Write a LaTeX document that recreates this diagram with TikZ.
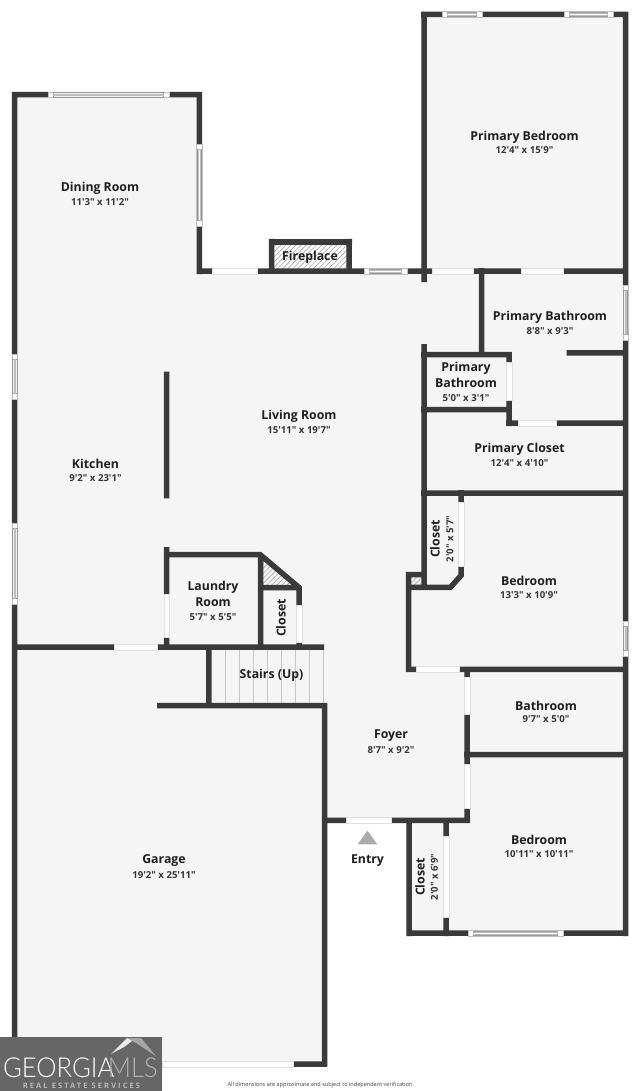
\documentclass[tikz,border=0pt]{standalone}
\usepackage{fontspec}
\usetikzlibrary{patterns.meta}
\newfontfamily\lab{Open Sans}
\newfontfamily\logofont{Lato Light}
\definecolor{wallc}{HTML}{3A3A3A}
\definecolor{floorc}{HTML}{F5F5F5}
\definecolor{txtc}{HTML}{1E1E1E}
\tikzset{
  wall/.style={draw=wallc,line width=5.5pt,line cap=butt,line join=miter},
  doorst/.style={fill=white,draw=black!12,line width=.5pt},
  winst/.style={fill=white,draw=black!25,line width=.5pt},
  winin/.style={fill=black!6,draw=black!40,line width=.5pt},
  hatchst/.style={pattern={Lines[angle=45,distance=3.6pt,line width=.6pt]},pattern color=black!35},
  rnamev/.style={font=\lab\bfseries\fontsize{12.3}{14}\selectfont,text=txtc,inner sep=0pt,align=center},
  rdimv/.style={font=\lab\bfseries\fontsize{9.6}{11}\selectfont,text=txtc!90,inner sep=0pt},
  rname/.style={rnamev,yshift=-1pt},
  rdim/.style={rdimv,yshift=-.8pt},
}
\newcommand\doorh[3]{\draw[doorst] ({#1},{#3-2.75}) rectangle ({#2},{#3+2.75});}
\newcommand\doorv[3]{\draw[doorst] ({#3-2.75},{#1}) rectangle ({#3+2.75},{#2});}
\newcommand\winh[3]{\draw[winst] ({#1},{#3-2.75}) rectangle ({#2},{#3+2.75});
  \draw[winin] ({#1+5.5},{#3-2.2}) rectangle ({#2-5.5},{#3+2.2});
  \draw[draw=black!25,line width=.4pt,fill=white] ({#1+5.5},{#3-.8}) rectangle ({#2-5.5},{#3+.8});}
\newcommand\winv[3]{\draw[winst] ({#3-2.75},{#1}) rectangle ({#3+2.75},{#2});
  \draw[winin] ({#3-2.2},{#1+5.5}) rectangle ({#3+2.2},{#2-5.5});
  \draw[draw=black!25,line width=.4pt,fill=white] ({#3-.8},{#1+5.5}) rectangle ({#3+.8},{#2-5.5});}
\begin{document}
\begin{tikzpicture}[x=1pt,y=-1pt]
\useasboundingbox (0,0) rectangle (640,1091);
\fill[white] (0,0) rectangle (640,1091);
% floor
\fill[floorc] (12,92)--(202,92)--(202,274)--(421,274)--(421,12)--(628,12)--(628,936)--(407,936)--(407,823)--(327,823)--(327,1066)--(12,1066)--cycle;
% fireplace
\fill[white] (269,239)rectangle(352,268);
\path[hatchst] (274,245) rectangle (347,268);
\path[hatchst] (263,558)--(263,585)--(292,585)--cycle;
\path[hatchst] (411.5,577) rectangle (421,585);
% stairs
\foreach \sx in {225.7,239.3,253.3,267.3,281.3,295.3,309.3,323}
  \draw[black!22,line width=.6pt] (\sx,650)--(\sx,703);
% walls
\path[wall]
 (14.7,92)--(14.7,354) (14.7,399)--(14.7,523) (14.7,604)--(14.7,1066)
 (12,94.7)--(48,94.7) (169,94.7)--(202,94.7)
 (199.3,92)--(199.3,144) (199.3,226)--(199.3,274)
 (197,271)--(212,271) (257,271)--(364,271) (407,271)--(432,271) (473,271)--(521,271) (563,271)--(628,271)
 (271.7,239)--(271.7,268) (349.2,239)--(349.2,268) (269,242)--(352,242)
 (424,12)--(424,282) (424,344)--(424,590)
 (421,14.5)--(442,14.5) (482,14.5)--(564,14.5) (613,14.5)--(628,14.5)
 (625.5,12)--(625.5,285) (625.5,340)--(625.5,621) (625.5,656)--(625.5,936)
 (481.5,268)--(481.5,357)
 (421,354.5)--(511.7,354.5)
 (509,352)--(509,362) (509,400)--(509,426)
 (506,423)--(518,423) (556.7,423)--(628,423)
 (566.7,352.8)--(628,352.8)
 (421,409.5)--(509,409.5)
 (421,493)--(628,493)
 (461,490)--(461,502)
 (461,566)--(461,575.5)--(450.5,587.3)--(406,587.3)
 (406,574.6)--(424,574.6)
 (408.7,572)--(408.7,672)
 (406,669.3)--(416.7,669.3) (459,669.3)--(628,669.3)
 (467,667)--(467,677) (467,714)--(467,764) (467,808)--(467,823)
 (464,754.7)--(628,754.7)
 (322,820.3)--(346,820.3) (391,820.3)--(470,820.3)
 (324.7,703)--(324.7,1066)
 (409.2,818)--(409.2,936)
 (446,820)--(446,836) (446,917)--(446,936)
 (407,933.2)--(468,933.2) (563,933.2)--(628,933.2)
 (166.5,547)--(166.5,594) (166.5,637)--(166.5,647)
 (164,554.5)--(260,554.5)--(299,587.5)--(299,605)
 (260.7,554)--(260.7,647) (260.7,587.5)--(299,587.5) (299,642)--(299,647)
 (12,647)--(114,647) (157,647)--(324,647)
 (208.8,647)--(208.8,705)
 (157,705.5)--(327,705.5)
 (293,1064)--(327,1064)
 (166.5,371.7)--(166.5,498.3);
% doors
\doorh{212}{257}{271}\doorh{432}{473}{271}\doorh{521}{563}{271}
\doorv{362}{400}{509}\doorh{518}{556.7}{423}\doorv{502}{566}{461}
\doorh{416.7}{459}{669.3}\doorv{677}{714}{467}\doorv{764}{808}{467}
\doorh{346}{391}{820.3}\doorv{836}{917}{446}\doorv{594}{637}{166.5}
\doorv{605}{642}{299}\doorh{114}{157}{647}\doorh{162}{293}{1064}
% windows
\winh{48}{169}{94.7}\winv{144}{226}{199.3}\winh{364}{407}{271}
\winh{442}{482}{14.5}\winh{564}{613}{14.5}\winv{285}{340}{625.5}
\winv{621}{656}{625.5}\winv{354}{399}{14.7}\winv{523}{604}{14.7}
\winh{468}{563}{933.2}
% labels
\node[rname] (n1) at (524.5,136.5) {Primary Bedroom};
\node[rdim] (d1) at (524.5,149.5) {12'4" x 15'9"};
\node[rname] (n2) at (100,187.5) {Dining Room};
\node[rdim] (d2) at (100,201) {11'3" x 11'2"};
\node[rname] (n3) at (310,256.5) {Fireplace};
\node[rname] (n4) at (550,316.5) {Primary Bathroom};
\node[rdim] (d4) at (550,330) {8'8" x 9'3"};
\node[rname,text width=70pt] (n5) at (466,374) {Primary\\[1.5pt]Bathroom};
\node[rdim] (d5) at (466,397) {5'0" x 3'1"};
\node[rname] (n6) at (299,415.5) {Living Room};
\node[rdim] (d6) at (299,429) {15'11" x 19'7"};
\node[rname] (n7) at (95.5,463) {Kitchen};
\node[rdim] (d7) at (95.5,477) {9'2" x 23'1"};
\node[rname] (n8) at (519.5,448) {Primary Closet};
\node[rdim] (d8) at (519.5,462) {12'4" x 4'10"};
\node[rnamev,rotate=90] (n9) at (435,539) {Closet};
\node[rdimv,rotate=90] (d9) at (450,539) {2'0" x 5'7"};
\node[rname] (n10) at (529,579.5) {Bedroom};
\node[rdim] (d10) at (529,594) {13'3" x 10'9"};
\node[rname,text width=70pt] (n11) at (213,593) {Laundry\\[1.5pt]Room};
\node[rdim] (d11) at (213,616) {5'7" x 5'5"};
\node[rnamev,rotate=90] (n12) at (281,618) {Closet};
\node[rname] (n13) at (271.5,674.5) {Stairs (Up)};
\node[rname] (n14) at (546,704.5) {Bathroom};
\node[rdim] (d14) at (546,718) {9'7" x 5'0"};
\node[rname] (n15) at (391,735) {Foyer};
\node[rdim] (d15) at (391,749) {8'7" x 9'2"};
\draw[fill=black!33,draw=none] (357.7,844.3)--(377.3,844.3)--(367.5,830.7)--cycle;
\node[rname] (n16) at (367.5,860) {Entry};
\node[rnamev,rotate=90] (n17) at (420,877) {Closet};
\node[rdimv,rotate=90] (d17) at (434.5,877) {2'0" x 6'9"};
\node[rname] (n18) at (539,839) {Bedroom};
\node[rdim] (d18) at (539,853) {10'11" x 10'11"};
\node[rname] (n19) at (164,860) {Garage};
\node[rdim] (d19) at (164,874) {19'2" x 25'11"};
\node[inner sep=0pt,font=\lab\fontsize{5.55}{6}\selectfont,text=black!75] (foot) at (320,1085) {All dimensions are approximate and subject to independent verification};
% logo
\fill[black!60] (0,1037) rectangle (161.7,1091);
\fill[black!8] (111,1054)--(127,1038)--(136,1038)--(124,1047)--cycle;
\fill[black!35] (127,1038)--(141,1038)--(156,1056)--(136,1043)--cycle;
\node[anchor=base west,inner sep=0pt,font=\logofont\fontsize{27.5}{30}\selectfont,text=white] (lg) at (3,1077) {\scalebox{.93}[1]{GEORGIA}};
\node[anchor=base east,inner sep=0pt,font=\logofont\fontsize{27.5}{30}\selectfont,text=black!30] (lm) at (158,1077) {\scalebox{.93}[1]{MLS}};
\node[anchor=base,inner sep=0pt,font=\lab\bfseries\fontsize{7.5}{9}\selectfont,text=black!28] (ls) at (81.5,1088) {\addfontfeature{LetterSpace=28}REAL ESTATE SERVICES};
\end{tikzpicture}
\end{document}
